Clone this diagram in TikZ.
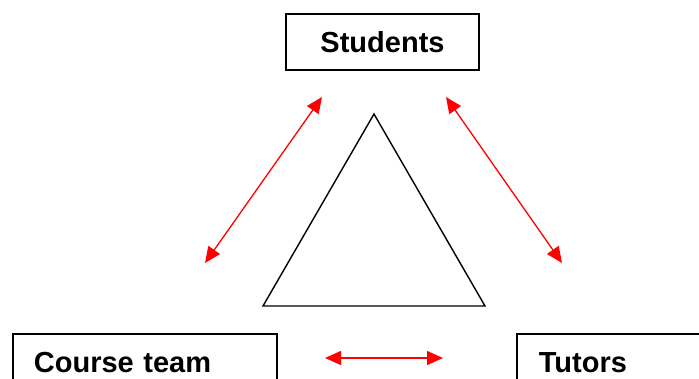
\documentclass[tikz,border=0pt]{standalone}
\usepackage{fontspec}
\setmainfont{Liberation Sans}
\usetikzlibrary{arrows.meta}

\begin{document}
\begin{tikzpicture}[x=1pt,y=-1pt,
  box/.style={draw,line width=1.8pt,font=\fontsize{29}{33}\selectfont\bfseries},
  redarrow/.style={line width=1.3pt,red,{Triangle[length=16pt,width=14pt]}-{Triangle[length=16pt,width=14pt]}}]
\useasboundingbox (0,0) rectangle (699,378);
  \node[box,minimum width=193pt,minimum height=56pt,inner sep=0pt] (students) at (382.5,42) {Students};
  \node[box,anchor=base west,inner xsep=21pt,inner ysep=18pt,text height=20pt,text depth=6pt,text width=222pt,align=left] (course) at (12,372) {Course team};
  \node[box,anchor=base west,inner xsep=22pt,inner ysep=18pt,text height=20pt,text depth=6pt,text width=200pt,align=left] (tutors) at (516,372) {Tutors};

  \draw[line width=1.4pt] (374,114) -- (485,306) -- (263,306) -- cycle;

  \coordinate (sl) at (322,97);
  \coordinate (cl) at (205,263);
  \coordinate (sr) at (446,97);
  \coordinate (tr) at (562,263);
  \coordinate (bl) at (325,358);
  \coordinate (br) at (443,358);
  \draw[redarrow] (sl) -- (cl);
  \draw[redarrow] (sr) -- (tr);
  \draw[redarrow] (bl) -- (br);
\end{tikzpicture}
\end{document}
